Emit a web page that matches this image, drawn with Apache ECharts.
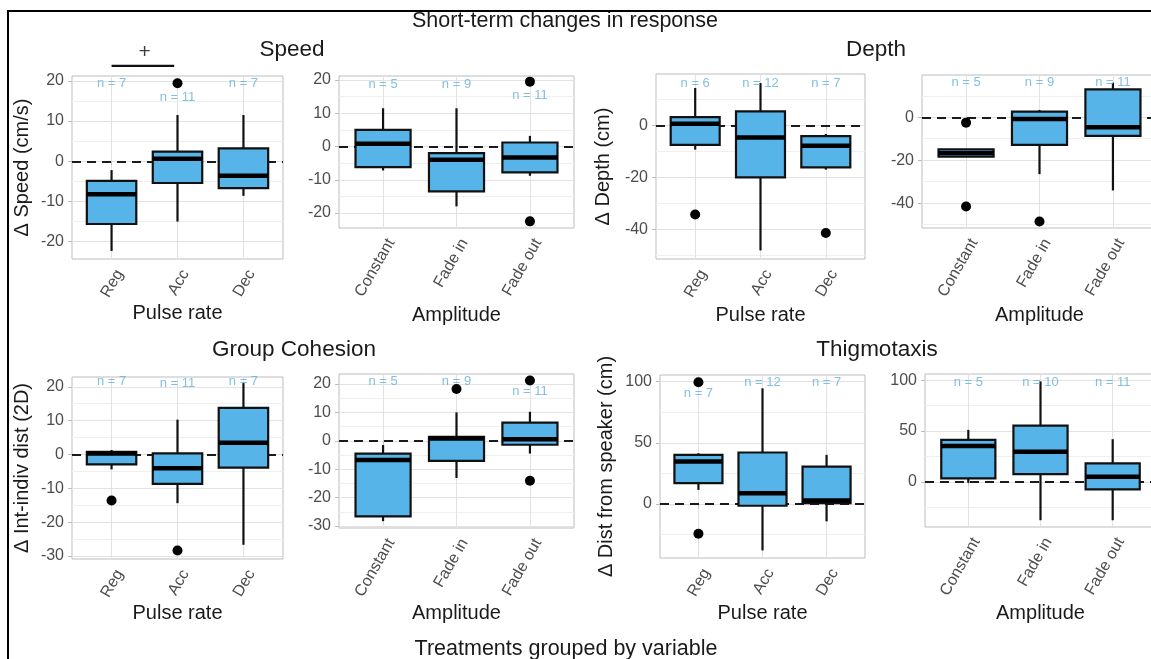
<!DOCTYPE html>
<html>
<head>
<meta charset="utf-8">
<script src="https://cdn.jsdelivr.net/npm/echarts@6/dist/echarts.min.js"></script>
<style>
html, body { margin: 0; padding: 0; background: #fff; }
#chart { width: 1151px; height: 659px; }
</style>
</head>
<body>
<div id="chart"></div>
<script>
// categories
const pulseCats = ["Reg", "Acc", "Dec"];
const ampCats = ["Constant", "Fade in", "Fade out"];

// box stats, one row per category: [low whisker, Q1, median, Q3, high whisker]
const speedPulse = [[-22.3, -15.6, -8.2, -4.9, -2.2], [-15.0, -5.4, 0.6, 2.4, 11.5], [-8.6, -6.7, -3.6, 3.2, 11.5]];
const speedAmp = [[-7.2, -6.2, 0.8, 5.0, 11.5], [-18.0, -13.5, -4.0, -2.0, 11.5], [-8.8, -7.8, -3.3, 1.2, 3.2]];
const depthPulse = [[-9.2, -7.4, 0.8, 3.3, 14.5], [-48.0, -19.9, -4.5, 5.5, 16.4], [-16.9, -16.0, -7.7, -4.0, -3.2]];
const depthAmp = [[-18.3, -18.3, -16.7, -14.9, -14.9], [-26.5, -12.9, -0.8, 2.6, 3.4], [-34.1, -8.7, -4.7, 13.0, 16.1]];
const cohPulse = [[-4.4, -2.9, 0.3, 0.8, 1.3], [-14.4, -8.7, -4.1, 0.3, 10.3], [-26.7, -3.9, 3.5, 13.8, 21.1]];
const cohAmp = [[-28.3, -26.6, -6.8, -4.5, -1.5], [-13.1, -7.1, 0.8, 1.4, 10.0], [-4.5, -1.4, 0.5, 6.4, 10.2]];
const thigPulse = [[11.4, 16.9, 34.6, 40.0, 41.4], [-38.2, -1.6, 8.7, 42.0, 94.6], [-14.4, 0.5, 2.7, 30.5, 40.1]];
const thigAmp = [[-1.0, 3.4, 35.3, 41.3, 51.2], [-37.9, 7.6, 29.7, 55.4, 99.0], [-37.9, -7.5, 5.0, 18.2, 42.0]];

// outliers: [category position, value]
const speedPulseOut = [[2, 19.4]];
const speedAmpOut = [[3, 19.5], [3, -22.5]];
const depthPulseOut = [[1, -34.2], [3, -41.3]];
const depthAmpOut = [[1, -2.5], [1, -41.6], [2, -48.6]];
const cohPulseOut = [[1, -13.6], [2, -28.4]];
const cohAmpOut = [[2, 18.2], [3, 21.2], [3, -14.1]];
const thigPulseOut = [[1, 99.5], [1, -24.5]];
const thigAmpOut = [];

// sample sizes and where their labels sit
const speedPulseN = ["n = 7", "n = 11", "n = 7"];
const speedPulseNY = [19.4, 15.8, 19.4];
const speedAmpN = ["n = 5", "n = 9", "n = 11"];
const speedAmpNY = [18.7, 18.7, 15.5];
const depthPulseN = ["n = 6", "n = 12", "n = 7"];
const depthPulseNY = [16.4, 16.4, 16.4];
const depthAmpN = ["n = 5", "n = 9", "n = 11"];
const depthAmpNY = [16.1, 16.1, 16.1];
const cohPulseN = ["n = 7", "n = 11", "n = 7"];
const cohPulseNY = [21.6, 20.9, 21.6];
const cohAmpN = ["n = 5", "n = 9", "n = 11"];
const cohAmpNY = [20.8, 20.8, 17.3];
const thigPulseN = ["n = 7", "n = 12", "n = 7"];
const thigPulseNY = [90.5, 99.5, 99.5];
const thigAmpN = ["n = 5", "n = 10", "n = 11"];
const thigAmpNY = [98, 98, 98];

// y ticks (major / minor grid)
const speedTicks = [-20, -10, 0, 10, 20];
const speedMinor = [-15, -5, 5, 15];
const depthTicks = [-40, -20, 0];
const depthMinor = [-50, -30, -10, 10];
const cohTicks = [-30, -20, -10, 0, 10, 20];
const cohMinor = [-25, -15, -5, 5, 15];
const thigTicks = [0, 50, 100];
const thigMinor = [-25, 25, 75];

// significance bar Reg-Acc in Speed
const speedSigBar = [[1, 23.7], [1.95, 23.7]];
const speedSigMark = [[1.5, 27.1]];

const FONT = "'Liberation Sans', Arial, sans-serif";
const BOX_FILL = "#56B4E9";
const N_COLOR = "#62b0dc";
const GRID_MAJOR = "#e2e2e2";
const GRID_MINOR = "#efefef";

const panels = [
  { box: speedPulse, out: speedPulseOut, n: speedPulseN, ny: speedPulseNY, cats: pulseCats,
    lim: [-24.3, 21.2], ticks: speedTicks, minor: speedMinor, yName: "Δ Speed (cm/s)", xName: "Pulse rate",
    left: 72, top: 76, width: 211, height: 183, xGap: 44, yGap: 40 },
  { box: speedAmp, out: speedAmpOut, n: speedAmpN, ny: speedAmpNY, cats: ampCats,
    lim: [-24.5, 21.2], ticks: speedTicks, minor: speedMinor, yName: "", xName: "Amplitude",
    left: 339, top: 76, width: 235, height: 152, xGap: 77, yGap: 40 },
  { box: depthPulse, out: depthPulseOut, n: depthPulseN, ny: depthPulseNY, cats: pulseCats,
    lim: [-51.3, 19.9], ticks: depthTicks, minor: depthMinor, yName: "Δ Depth (cm)", xName: "Pulse rate",
    left: 656, top: 74, width: 209, height: 185, xGap: 46, yGap: 43 },
  { box: depthAmp, out: depthAmpOut, n: depthAmpN, ny: depthAmpNY, cats: ampCats,
    lim: [-51.6, 19.7], ticks: depthTicks, minor: depthMinor, yName: "", xName: "Amplitude",
    left: 922, top: 75, width: 235, height: 153, xGap: 77, yGap: 40 },
  { box: cohPulse, out: cohPulseOut, n: cohPulseN, ny: cohPulseNY, cats: pulseCats,
    lim: [-30.9, 22.9], ticks: cohTicks, minor: cohMinor, yName: "Δ Int-indiv dist (2D)", xName: "Pulse rate",
    left: 72, top: 377, width: 211, height: 182, xGap: 44, yGap: 40 },
  { box: cohAmp, out: cohAmpOut, n: cohAmpN, ny: cohAmpNY, cats: ampCats,
    lim: [-30.7, 23.5], ticks: cohTicks, minor: cohMinor, yName: "", xName: "Amplitude",
    left: 339, top: 374, width: 235, height: 154, xGap: 75, yGap: 40 },
  { box: thigPulse, out: thigPulseOut, n: thigPulseN, ny: thigPulseNY, cats: pulseCats,
    lim: [-44.4, 105.5], ticks: thigTicks, minor: thigMinor, yName: "Δ Dist from speaker (cm)", xName: "Pulse rate",
    left: 660, top: 375, width: 205, height: 183, xGap: 45, yGap: 44 },
  { box: thigAmp, out: thigAmpOut, n: thigAmpN, ny: thigAmpNY, cats: ampCats,
    lim: [-44.6, 106.3], ticks: thigTicks, minor: thigMinor, yName: "", xName: "Amplitude",
    left: 925, top: 374, width: 231, height: 153, xGap: 76, yGap: 40 }
];

// ggplot style box: whiskers without caps, thick median
function renderBox(params, api) {
  const x = api.value(0);
  const lo = api.coord([x, api.value(1)]);
  const q1 = api.coord([x, api.value(2)]);
  const med = api.coord([x, api.value(3)]);
  const q3 = api.coord([x, api.value(4)]);
  const hi = api.coord([x, api.value(5)]);
  const w = api.size([0.75, 0])[0];
  const line = { stroke: "#111", lineWidth: 2.2 };
  return {
    type: "group",
    children: [
      { type: "line", shape: { x1: lo[0], y1: lo[1], x2: q1[0], y2: q1[1] }, style: line },
      { type: "line", shape: { x1: hi[0], y1: hi[1], x2: q3[0], y2: q3[1] }, style: line },
      { type: "rect", shape: { x: q3[0] - w / 2, y: q3[1], width: w, height: q1[1] - q3[1] },
        style: { fill: BOX_FILL, stroke: "#111", lineWidth: 2.2 } },
      { type: "line", shape: { x1: med[0] - w / 2, y1: med[1], x2: med[0] + w / 2, y2: med[1] },
        style: { stroke: "#000", lineWidth: 4.5 } }
    ]
  };
}

const grid = [], xAxis = [], yAxis = [], series = [];
panels.forEach(function (p, i) {
  // rotated labels hang a little right of their tick, as in the original
  const shift = 8 / (p.width / 3.2);
  grid.push({
    left: p.left, top: p.top, width: p.width, height: p.height,
    show: true, borderColor: "#bdbdbd", borderWidth: 1, backgroundColor: "#fff",
    containLabel: false, outerBoundsMode: "none"
  });
  xAxis.push({
    type: "value", gridIndex: i, min: 0.4, max: 3.6,
    name: p.xName, nameLocation: "middle", nameGap: p.xGap, nameMoveOverlap: false,
    nameTextStyle: { fontFamily: FONT, fontSize: 20, color: "#1a1a1a" },
    axisLine: { show: false },
    axisTick: { show: true, customValues: [1, 2, 3], length: 4, lineStyle: { color: "#bdbdbd" } },
    axisLabel: {
      customValues: [1 + shift, 2 + shift, 3 + shift], rotate: 60, margin: 12,
      fontFamily: FONT, fontSize: 16, color: "#4d4d4d",
      formatter: function (v) { return p.cats[Math.round(v) - 1] || ""; }
    },
    splitLine: { show: true, lineStyle: { color: GRID_MAJOR, width: 1 } }
  });
  yAxis.push({
    type: "value", gridIndex: i, min: p.lim[0], max: p.lim[1],
    name: p.yName, nameLocation: "middle", nameGap: p.yGap, nameRotate: 90, nameMoveOverlap: false,
    nameTextStyle: { fontFamily: FONT, fontSize: 20, color: "#1a1a1a" },
    axisLine: { show: false },
    axisTick: { show: true, customValues: p.ticks, length: 4, lineStyle: { color: "#bdbdbd" } },
    axisLabel: { customValues: p.ticks, margin: 8, fontFamily: FONT, fontSize: 16, color: "#4d4d4d" },
    splitLine: { show: true, lineStyle: { color: GRID_MAJOR, width: 1 } }
  });
  yAxis.push({
    type: "value", gridIndex: i, min: p.lim[0], max: p.lim[1],
    axisLine: { show: false },
    axisTick: { show: false, customValues: p.minor },
    axisLabel: { show: false },
    splitLine: { show: true, lineStyle: { color: GRID_MINOR, width: 1 } }
  });

  series.push({
    type: "custom", xAxisIndex: i, yAxisIndex: 2 * i, z: 3,
    data: p.box.map(function (b, k) { return [k + 1].concat(b); }),
    renderItem: renderBox,
    markLine: {
      silent: true, symbol: "none", z: 1, animation: false,
      label: { show: false },
      lineStyle: { color: "#1a1a1a", width: 2, type: [9, 6] },
      data: [{ yAxis: 0 }]
    }
  });
  series.push({
    type: "scatter", xAxisIndex: i, yAxisIndex: 2 * i, z: 4,
    symbolSize: 10, itemStyle: { color: "#000", opacity: 1 },
    data: p.out
  });
  series.push({
    type: "scatter", xAxisIndex: i, yAxisIndex: 2 * i, z: 5, silent: true,
    symbolSize: 1, itemStyle: { color: "rgba(0,0,0,0)" },
    data: p.ny.map(function (y, k) { return [k + 1, y]; }),
    label: {
      show: true, position: "inside", fontFamily: FONT, fontSize: 13, color: N_COLOR,
      formatter: function (params) { return p.n[params.dataIndex]; }
    }
  });
});

// "+" bar between Reg and Acc (Speed)
series.push({
  type: "line", xAxisIndex: 0, yAxisIndex: 0, clip: false, symbol: "none", z: 5,
  lineStyle: { color: "#111", width: 2.2 }, data: speedSigBar
});
series.push({
  type: "scatter", xAxisIndex: 0, yAxisIndex: 0, clip: false, z: 5, silent: true,
  symbolSize: 1, itemStyle: { color: "rgba(0,0,0,0)" }, data: speedSigMark,
  label: { show: true, position: "inside", formatter: "+", fontFamily: FONT, fontSize: 21, color: "#111" }
});

function txt(text, x, y, size) {
  return {
    type: "text", x: x, y: y, z: 10,
    style: { text: text, fontFamily: FONT, fontSize: size, fill: "#1a1a1a", textAlign: "center", textVerticalAlign: "middle" }
  };
}

const chart = echarts.init(document.getElementById("chart"));
chart.setOption({
  animation: false,
  backgroundColor: "#fff",
  grid: grid,
  xAxis: xAxis,
  yAxis: yAxis,
  series: series,
  graphic: [
    { type: "rect", z: 20, shape: { x: 8, y: 11, width: 1200, height: 700 },
      style: { fill: "none", stroke: "#000", lineWidth: 2 } },
    txt("Short-term changes in response", 565, 21, 21.5),
    txt("Speed", 292, 50, 22.5),
    txt("Depth", 876, 50, 22.5),
    txt("Group Cohesion", 294, 350, 22.5),
    txt("Thigmotaxis", 877, 350, 22.5),
    txt("Treatments grouped by variable", 566, 649, 21.5)
  ]
});
</script>
</body>
</html>
